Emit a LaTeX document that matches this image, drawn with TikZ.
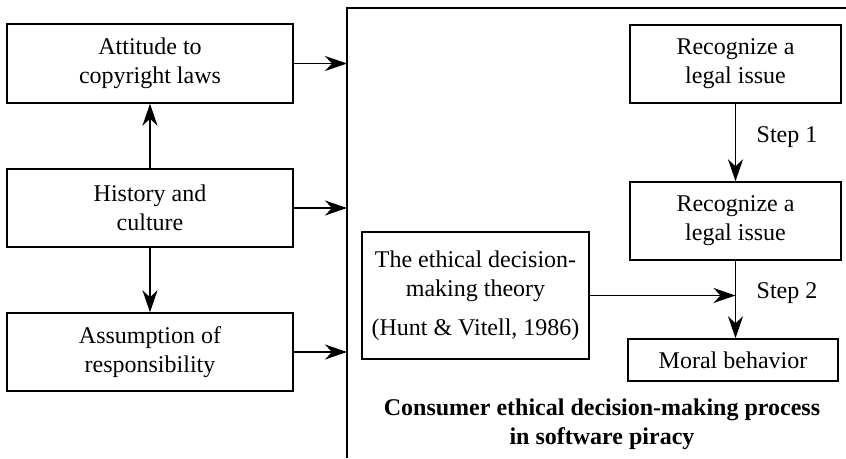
\documentclass[tikz,border=0pt]{standalone}
\usepackage{fontspec}
\setmainfont{Liberation Serif}
\usetikzlibrary{arrows.meta}
\begin{document}
\begin{tikzpicture}[x=1pt,y=-1pt,
  every node/.style={font=\fontsize{24}{29}\selectfont},
  box/.style={draw,line width=1.4pt,inner sep=0pt,align=center},
  arr/.style={line width=1.4pt,-{Stealth[length=22pt,width=15pt,inset=7pt]}},
  lbl/.style={inner sep=0pt}]
\useasboundingbox (0,0) rectangle (846,458);
\node[box,minimum width=286pt,minimum height=79pt] (b1) at (150,63.5) {Attitude to\\copyright laws};
\node[box,minimum width=286pt,minimum height=78pt] (b2) at (150,208) {History and\\culture};
\node[box,minimum width=286pt,minimum height=78pt] (b3) at (150,352) {Assumption of\\responsibility};
\coordinate (fb) at (347,458);
\coordinate (ft) at (347,8);
\coordinate (fr) at (846,8);
\draw[line width=1.4pt] (fb) -- (ft) -- (fr);
\node[box,minimum width=211pt,minimum height=78pt] (r1) at (735.5,64) {Recognize a\\legal issue};
\node[box,minimum width=211pt,minimum height=78pt] (r2) at (735.5,221) {Recognize a\\legal issue};
\node[box,minimum width=227pt,minimum height=127pt] (th) at (475.5,295.5) {The ethical decision-\\making theory\\[10pt](Hunt \& Vitell, 1986)};
\node[box,minimum width=210pt,minimum height=42pt] (mb) at (733,360) {Moral behavior};
\node[lbl] (s1) at (787,137) {Step 1};
\node[lbl] (s2) at (787,293) {Step 2};
\node[lbl,align=center,font=\fontsize{24}{29}\selectfont\bfseries] (cap) at (602,424) {Consumer ethical decision-making process\\in software piracy};
\draw[arr] (b1.east) -- (b1.east -| ft);
\draw[arr] (b2.east) -- (b2.east -| ft);
\draw[arr] (b3.east) -- (b3.east -| ft);
\draw[arr] (b2.north) -- (b1.south);
\draw[arr] (b2.south) -- (b3.north);
\draw[arr] (r1.south) -- (r2.north);
\draw[arr] (r2.south) -- (r2.south |- mb.north);
\draw[arr] (th.east) -- (th.east -| r2.south);
\end{tikzpicture}
\end{document}
